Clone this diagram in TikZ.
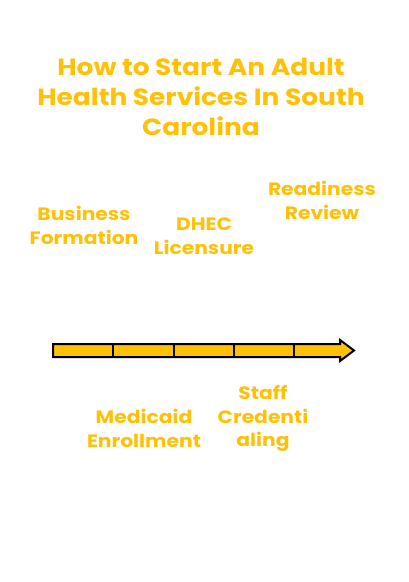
\documentclass[tikz,border=0pt]{standalone}
\usepackage{fontspec}
\setmainfont{Poppins}[FakeStretch=1.13]
\usetikzlibrary{arrows.meta}
\definecolor{amber}{HTML}{FFC107}
\tikzset{
  lbl/.style={text=amber, font=\fontsize{18}{24}\selectfont\bfseries, align=center, inner sep=0pt},
  ttl/.style={text=amber, font=\fontsize{23.5}{30}\selectfont\bfseries, align=center, inner sep=0pt},
  seg/.style={draw=black, line width=2bp, fill=amber},
  tick/.style={draw=black, line width=2bp}
}
\begin{document}
\begin{tikzpicture}[x=1bp,y=-1bp]
\useasboundingbox (0,0) rectangle (408,582);
\node[ttl] (title) at (201,97) {How to Start An Adult\\Health Services In South\\Carolina};
\node[lbl] (bf) at (84,225) {Business\\Formation};
\node[lbl] (dhec) at (204,236.5) {DHEC\\Licensure};
\node[lbl] (rr) at (322,200) {Readiness\\Review};
\node[lbl] (me) at (144,428) {Medicaid\\Enrollment};
\node[lbl] (sc) at (263,418.5) {Staff\\Credenti\\aling};
% timeline arrow
\draw[seg,line join=miter] (53,344) -- (340,344) -- (340,340) -- (354,350.5) -- (340,361) -- (340,357) -- (53,357) -- cycle;
\coordinate (t1) at (113,344); \coordinate (b1) at (113,357);
\coordinate (t2) at (174,344); \coordinate (b2) at (174,357);
\coordinate (t3) at (234,344); \coordinate (b3) at (234,357);
\coordinate (t4) at (294,344); \coordinate (b4) at (294,357);
\draw[tick] (t1) -- (b1);
\draw[tick] (t2) -- (b2);
\draw[tick] (t3) -- (b3);
\draw[tick] (t4) -- (b4);
\end{tikzpicture}
\end{document}
